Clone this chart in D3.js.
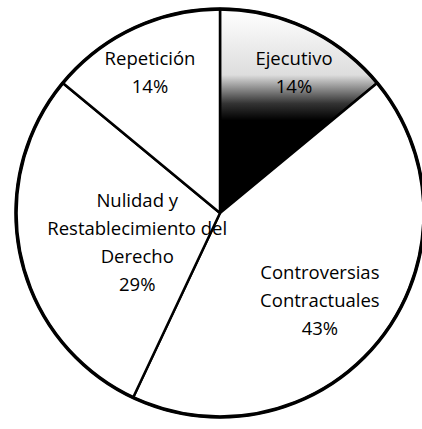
<!DOCTYPE html>
<html lang="es">
<head>
<meta charset="UTF-8">
<title>Pie</title>
<script src="https://cdn.jsdelivr.net/npm/d3@7"></script>
<style>
  body { margin: 0; background: #fff; }
  svg text { font-family: "Open Sans", sans-serif; font-size: 18.5px; fill: #000; }
</style>
</head>
<body>
<div id="vis"></div>
<script>

    // categories, clockwise from 12 o'clock
    var categories = ["Ejecutivo", "Controversias\nContractuales", "Nulidad y\nRestablecimiento del\nDerecho", "Repetición"];
    var values = [14, 43, 29, 14];
    var percentLabels = ["14%", "43%", "29%", "14%"];

    var width = 422;
    var height = 429;
    var cx = 220, cy = 213, radius = 204;
    // label placement (best-fit style, like the original)
    var labelRadius = [155, 134, 92, 155];
    var labelShift = [[8, 0], [-6, 5], [7, 9], [-4, 0]];
    var lineHeight = 28;

    var svg = d3.select("#vis")
        .append("svg")
          .attr("width", width)
          .attr("height", height);

    // scanned look of the Ejecutivo slice: light at the rim, black towards centre
    var grad = svg.append("defs").append("linearGradient")
        .attr("id", "scan")
        .attr("gradientUnits", "userSpaceOnUse")
        .attr("x1", 0).attr("y1", 10 - cy)
        .attr("x2", 0).attr("y2", 140 - cy);
    grad.append("stop").attr("offset", "0").attr("stop-color", "#fff");
    grad.append("stop").attr("offset", "0.5").attr("stop-color", "#ddd");
    grad.append("stop").attr("offset", "0.72").attr("stop-color", "#333");
    grad.append("stop").attr("offset", "0.85").attr("stop-color", "#000");

    var g = svg.append("g")
        .attr("transform", "translate(" + cx + "," + cy + ")");

    var pie = d3.pie().sort(null).value(function(d) { return d; });
    var arcs = pie(values);

    var arc = d3.arc().innerRadius(0).outerRadius(radius);

    g.selectAll(".slice")
        .data(arcs)
        .enter()
        .append("path")
        .attr("class", "slice")
        .attr("d", arc)
        .attr("fill", function(d, i) { return i === 0 ? "url(#scan)" : "#fff"; })
        .attr("stroke", "#000")
        .attr("stroke-width", 2.5)
        .attr("stroke-linejoin", "round");

    g.append("circle")
        .attr("r", radius)
        .attr("fill", "none")
        .attr("stroke", "#000")
        .attr("stroke-width", 3.5);

    var labels = g.selectAll(".label")
        .data(arcs)
        .enter()
        .append("text")
        .attr("class", "label")
        .attr("text-anchor", "middle")
        .attr("transform", function(d, i) {
            var a = (d.startAngle + d.endAngle) / 2;
            var r = labelRadius[i];
            var x = Math.sin(a) * r + labelShift[i][0];
            var y = -Math.cos(a) * r + labelShift[i][1];
            return "translate(" + x + "," + y + ")";
        });

    labels.each(function(d, i) {
        var lines = categories[i].split("\n").concat([percentLabels[i]]);
        var t = d3.select(this);
        var top = -(lines.length - 1) * lineHeight / 2;
        lines.forEach(function(l, k) {
            t.append("tspan")
                .attr("x", 0)
                .attr("y", top + k * lineHeight)
                .attr("dy", "0.35em")
                .text(l);
        });
    });

</script>
</body>
</html>
